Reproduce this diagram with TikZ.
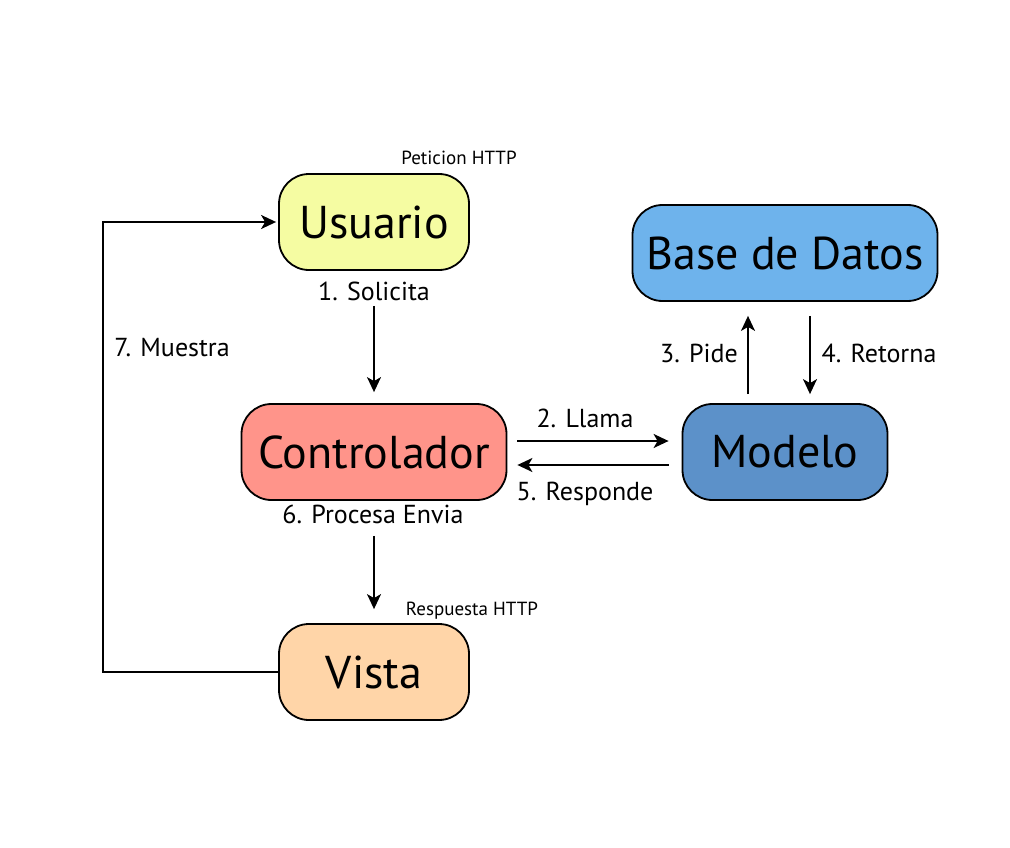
\documentclass[tikz,border=0pt]{standalone}
\usepackage{fontspec}
\setmainfont{PT Sans}
\usetikzlibrary{
        arrows.meta,
        positioning
    }
\definecolor{usrfill}{RGB}{245,252,162}
\definecolor{bdfill}{RGB}{110,179,236}
\definecolor{ctlfill}{RGB}{255,148,138}
\definecolor{modfill}{RGB}{92,145,201}
\definecolor{visfill}{RGB}{255,213,168}
\tikzset{>={Stealth[length=15pt,width=14pt,inset=4pt]}}
\tikzset{caja/.style={draw,rounded corners=30pt,minimum height=96pt,inner sep=0pt,font=\fontsize{46}{50}\selectfont},
         etiq/.style={anchor=base,inner sep=0pt,font=\fontsize{26}{28}\selectfont},
         http/.style={anchor=base,inner sep=0pt,font=\fontsize{19}{22}\selectfont}}

\begin{document}
\begin{tikzpicture}[x=1pt,y=-1pt,line width=1.8pt]
                    \useasboundingbox (0,0) rectangle (1010,848);
                    \node[caja,fill=usrfill,minimum width=190pt] (usr) at (374,222) {Usuario};
                    \node[caja,fill=bdfill,minimum width=305pt] (bd)  at (785,253) {Base de Datos};
                    \node[caja,fill=ctlfill,minimum width=265pt] (ctl) at (374,452) {Controlador};
                    \node[caja,fill=modfill,minimum width=205pt] (mod) at (785,452) {Modelo};
                    \node[caja,fill=visfill,minimum width=190pt] (vis) at (374,672) {Vista};
                    % etiquetas
                    \node[http] (pet) at (459,165) {Peticion HTTP};
                    \node[http] (res) at (472,615) {Respuesta HTTP};
                    \node[etiq] (l1) at (374,300) {1. Solicita};
                    \node[etiq] (l2) at (585,427) {2. Llama};
                    \node[etiq] (l3) at (699,362) {3. Pide};
                    \node[etiq] (l4) at (879,362) {4. Retorna};
                    \node[etiq] (l5) at (585,500) {5. Responde};
                    \node[etiq] (l6) at (373,523) {6. Procesa Envia};
                    \node[etiq] (l7) at (172,356) {7. Muestra};
                    % flechas
                    \draw[->,shorten <=35pt,shorten >=11pt] (usr.south) -- (ctl.north);
                    \draw[->,shorten <=10pt,shorten >=13pt] ([yshift=11pt]ctl.east) -- ([yshift=11pt]mod.west);
                    \draw[->,shorten <=13pt,shorten >=10pt] ([yshift=-13pt]mod.west) -- ([yshift=-13pt]ctl.east);
                    \draw[->,shorten <=9pt,shorten >=14pt] ([xshift=-37pt]mod.north) -- ([xshift=-37pt]bd.south);
                    \draw[->,shorten <=14pt,shorten >=9pt] ([xshift=25pt]bd.south) -- ([xshift=25pt]mod.north);
                    \draw[->,shorten <=35pt,shorten >=14pt] (ctl.south) -- (vis.north);
                    \draw[->,shorten >=2pt] (vis.west) -- ++(-175,0) |- (usr.west);
                \end{tikzpicture}
\end{document}
